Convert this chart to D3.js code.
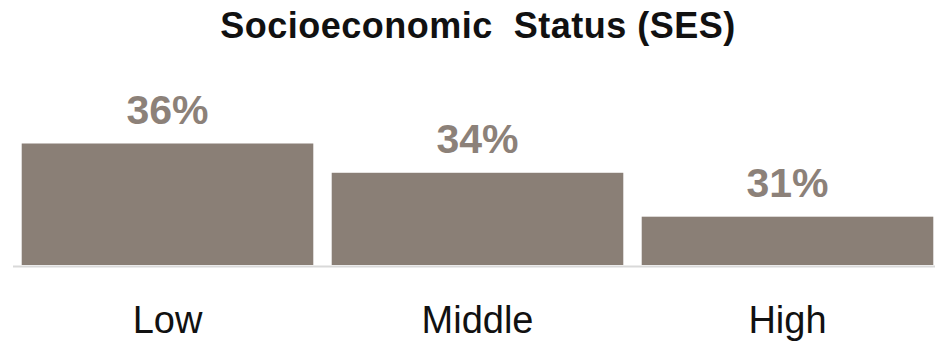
<!DOCTYPE html>
<html>
<head>
<meta charset="utf-8">
<script src="https://cdn.jsdelivr.net/npm/d3@7"></script>
<style>
  html, body { margin: 0; padding: 0; background: #fff; }
  svg { display: block; }
</style>
</head>
<body>
<div id="chart"></div>
<script>
// Share of respondents by socioeconomic status
const categories = ["Low", "Middle", "High"];
const values = [36, 34, 31];
const valueLabels = ["36%", "34%", "31%"];
const titleText = "Socioeconomic\u00a0 Status (SES)";

const width = 935, height = 343;
const baseY = 265;

const svg = d3.select("#chart").append("svg")
  .attr("width", width)
  .attr("height", height);

const x = d3.scaleBand()
  .domain(categories)
  .range([12.5, 942.5])
  .paddingInner(0.0594)
  .paddingOuter(0.0297);

// Value axis does not start at zero
const y = d3.scaleLinear()
  .domain([27.7, 36])
  .range([baseY, 143.5]);

svg.append("text")
  .attr("x", 478)
  .attr("y", 38)
  .attr("text-anchor", "middle")
  .style("font-family", "'Liberation Sans', Arial, sans-serif")
  .style("font-weight", "bold")
  .style("font-size", "36px")
  .style("letter-spacing", "0.5px")
  .attr("fill", "#111")
  .text(titleText);

svg.selectAll("rect.bar")
  .data(values)
  .join("rect")
  .attr("class", "bar")
  .attr("x", (d, i) => x(categories[i]))
  .attr("y", d => y(d))
  .attr("width", x.bandwidth())
  .attr("height", d => baseY - y(d))
  .attr("fill", "#8a7f76");

// Baseline
svg.append("line")
  .attr("x1", 13).attr("x2", width)
  .attr("y1", baseY + 1.5).attr("y2", baseY + 1.5)
  .attr("stroke", "#d9d9d9")
  .attr("stroke-width", 2);

svg.selectAll("text.val")
  .data(values)
  .join("text")
  .attr("class", "val")
  .attr("x", (d, i) => x(categories[i]) + x.bandwidth() / 2)
  .attr("y", d => y(d) - 19.5)
  .attr("text-anchor", "middle")
  .style("font-family", "'Liberation Sans', Arial, sans-serif")
  .style("font-weight", "bold")
  .style("font-size", "41px")
  .attr("fill", "#8c8179")
  .text((d, i) => valueLabels[i]);

const xAxis = svg.append("g")
  .attr("transform", `translate(0,${baseY})`)
  .call(d3.axisBottom(x).tickSize(0).tickPadding(0));
xAxis.select(".domain").remove();
xAxis.selectAll("text")
  .attr("dy", null)
  .attr("y", 68)
  .style("font-family", "'Liberation Sans', Arial, sans-serif")
  .style("font-size", "38px")
  .attr("fill", "#111");
</script>
</body>
</html>
